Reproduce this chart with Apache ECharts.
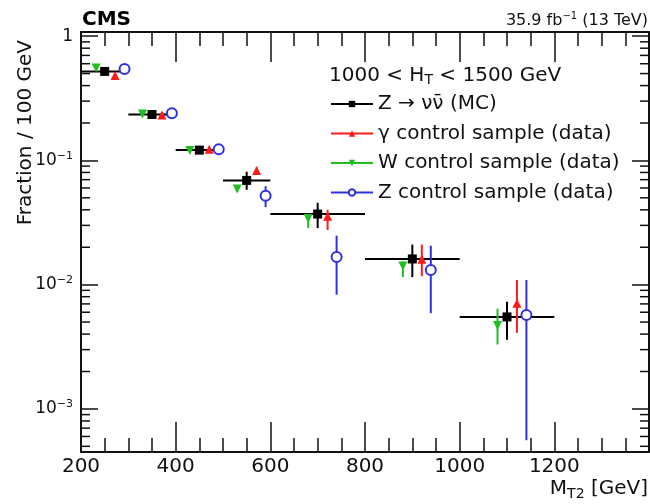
<!DOCTYPE html>
<html><head><meta charset="utf-8">
<script src="https://cdn.jsdelivr.net/npm/echarts@6/dist/echarts.min.js"></script>
<style>html,body{margin:0;padding:0;background:#fff}#c{width:650px;height:504px}</style>
</head><body><div id="c"></div>
<script>
// ---- data ----
const binLow  = [200, 300, 400, 500, 600, 800, 1000];
const binHigh = [300, 400, 500, 600, 800, 1000, 1200];

const mcX  = [250, 350, 450, 550, 700, 900, 1100];
const mcY  = [0.52, 0.234, 0.121, 0.069, 0.037, 0.0161, 0.0055];
const mcLo = [0.51, 0.230, 0.118, 0.058, 0.0285, 0.0115, 0.0036];
const mcHi = [0.53, 0.238, 0.124, 0.081, 0.0456, 0.021, 0.0073];

const phX  = [272, 371, 471, 571, 721, 920, 1121];
const phY  = [0.483, 0.232, 0.123, 0.083, 0.0355, 0.016, 0.0071];
const phLo = [0.47, 0.226, 0.119, 0.079, 0.0276, 0.0117, 0.0041];
const phHi = [0.495, 0.245, 0.128, 0.088, 0.040, 0.021, 0.0109];

const wX  = [232, 330, 430, 530, 680, 880, 1080];
const wY  = [0.553, 0.236, 0.120, 0.059, 0.034, 0.0141, 0.0047];
const wLo = [0.54, 0.231, 0.117, 0.056, 0.0286, 0.0115, 0.0033];
const wHi = [0.565, 0.241, 0.123, 0.062, 0.036, 0.0154, 0.0064];

const zX  = [292, 392, 491, 590, 740, 939, 1141];
const zY  = [0.544, 0.240, 0.123, 0.052, 0.0167, 0.0131, 0.0057];
const zLo = [0.525, 0.232, 0.115, 0.042, 0.0083, 0.0059, 0.00056];
const zHi = [0.565, 0.250, 0.132, 0.062, 0.0248, 0.0206, 0.0109];

const seriesNames = ['Z \u2192 \u03BD\u03BD\u0304 (MC)', '\u03B3 control sample (data)', 'W control sample (data)', 'Z control sample (data)'];
const yMinorTicks = [5e-4,6e-4,7e-4,8e-4,9e-4, 2e-3,3e-3,4e-3,5e-3,6e-3,7e-3,8e-3,9e-3,
                     2e-2,3e-2,4e-2,5e-2,6e-2,7e-2,8e-2,9e-2, 0.2,0.3,0.4,0.5,0.6,0.7,0.8,0.9];

const FONT = 'DejaVu Sans';
const cBlack = '#000000', cRed = '#ff1a1a', cGreen = '#1fbf1f', cBlue = '#3030e0';

function errSeries(color, xs, ys, lo, hi, withX) {
  const data = xs.map((x, i) => withX ? [x, ys[i], lo[i], hi[i], binLow[i], binHigh[i]] : [x, ys[i], lo[i], hi[i], x, x]);
  return {
    type: 'custom', name: 'err', data: data, z: 2, silent: true, animation: false,
    encode: { x: 0, y: 1 },
    renderItem: function (params, api) {
      const x = api.value(0), y = api.value(1);
      const pLo = api.coord([x, api.value(2)]), pHi = api.coord([x, api.value(3)]);
      const ch = [{ type: 'line', shape: { x1: pLo[0], y1: pLo[1], x2: pHi[0], y2: pHi[1] }, style: { stroke: color, lineWidth: 2 } }];
      if (withX) {
        const a = api.coord([api.value(4), y]), b = api.coord([api.value(5), y]);
        ch.push({ type: 'line', shape: { x1: a[0], y1: a[1], x2: b[0], y2: b[1] }, style: { stroke: color, lineWidth: 2 } });
      }
      return { type: 'group', children: ch };
    }
  };
}
function markSeries(name, color, xs, ys, symbol, size, rot) {
  return {
    type: 'line', name: name, data: xs.map((x, i) => [x, ys[i]]),
    symbol: symbol, symbolSize: size, symbolRotate: rot || 0, showAllSymbol: true,
    itemStyle: { color: color, borderWidth: symbol === 'emptyCircle' ? 1.6 : 0 },
    lineStyle: { opacity: 0, color: color }, z: 5, silent: true, animation: false
  };
}

const chart = echarts.init(document.getElementById('c'), null, { renderer: 'canvas' });
const yLabelRich = { b: { fontSize: 17, lineHeight: 20, fontFamily: FONT, color: '#111' },
                     s: { fontSize: 11, lineHeight: 10, verticalAlign: 'top', fontFamily: FONT, color: '#111' } };
const option = {
  animation: false,
  backgroundColor: '#ffffff',
  grid: { left: 81, right: 1, top: 32, bottom: 52, containLabel: false },
  xAxis: [{
    type: 'value', min: 200, max: 1400, interval: 200, position: 'bottom',
    axisLine: { show: true, lineStyle: { color: '#111', width: 2 } },
    axisTick: { show: true, inside: true, length: 30, lineStyle: { color: '#111', width: 1.5 } },
    minorTick: { show: true, splitNumber: 4, length: 14, lineStyle: { color: '#111', width: 1.5 } },
    splitLine: { show: false },
    axisLabel: { fontSize: 20, fontFamily: FONT, color: '#111', margin: 5, showMaxLabel: false,
                 formatter: function (v) { return String(v); } }
  }, {
    type: 'value', min: 200, max: 1400, interval: 200, position: 'top',
    axisLine: { show: true, lineStyle: { color: '#111', width: 2 } },
    axisTick: { show: true, inside: true, length: 30, lineStyle: { color: '#111', width: 1.5 } },
    minorTick: { show: true, splitNumber: 4, length: 14, lineStyle: { color: '#111', width: 1.5 } },
    splitLine: { show: false }, axisLabel: { show: false }
  }],
  yAxis: [{
    type: 'log', logBase: 10, min: 4.5e-4, max: 1.08, position: 'left',
    axisLine: { show: true, lineStyle: { color: '#111', width: 2 } },
    axisTick: { show: true, inside: true, length: 17, lineStyle: { color: '#111', width: 1.5 } },
    splitLine: { show: false },
    axisLabel: {
      margin: 8, showMinLabel: false, showMaxLabel: false, rich: yLabelRich,
      formatter: function (v) {
        const l = Math.log10(v), e = Math.round(l);
        if (Math.abs(l - e) > 1e-6) return '';
        return e === 0 ? '{b|1}' : '{b|10}{s|\u2212' + (-e) + '}';
      }
    }
  }, {
    type: 'log', logBase: 10, min: 4.5e-4, max: 1.08, position: 'right',
    axisLine: { show: true, lineStyle: { color: '#111', width: 2 } },
    axisTick: { show: true, inside: true, length: 17, lineStyle: { color: '#111', width: 1.5 } },
    splitLine: { show: false }, axisLabel: { show: false }
  }],
  legend: {
    orient: 'vertical', left: 330, top: 94, padding: 0, itemWidth: 42, itemHeight: 8, itemGap: 9.5,
    selectedMode: false, data: seriesNames,
    textStyle: { fontSize: 20, fontFamily: FONT, color: '#111', lineHeight: 20 },
    lineStyle: { opacity: 1, width: 2 }
  },
  graphic: [
    { type: 'text', x: 82, y: 19.5, style: { text: 'CMS', fontSize: 20, fontWeight: 'bold', fontFamily: FONT, fill: '#000', align: 'left', verticalAlign: 'middle' } },
    { type: 'text', x: 648, y: 21, style: { text: '35.9 fb{s|\u22121} (13 TeV)', fontSize: 16, fontFamily: FONT, fill: '#111', align: 'right', verticalAlign: 'middle',
        rich: { s: { fontSize: 10, lineHeight: 10, verticalAlign: 'top', fontFamily: FONT, fill: '#111' } }, lineHeight: 20 } },
    { type: 'text', x: 329, y: 75.5, style: { text: '1000 < H{t|T} < 1500 GeV', fontSize: 20, fontFamily: FONT, fill: '#111', align: 'left', verticalAlign: 'middle', lineHeight: 24,
        rich: { t: { fontSize: 14, lineHeight: 10, verticalAlign: 'bottom', fontFamily: FONT, fill: '#111' } } } },
    { type: 'text', x: 648, y: 489, style: { text: 'M{t|T2} [GeV]', fontSize: 20, fontFamily: FONT, fill: '#111', align: 'right', verticalAlign: 'middle', lineHeight: 24,
        rich: { t: { fontSize: 14, lineHeight: 10, verticalAlign: 'bottom', fontFamily: FONT, fill: '#111' } } } },
    { type: 'text', x: 26, y: 40, rotation: Math.PI / 2, style: { text: 'Fraction / 100 GeV', fontSize: 20, fontFamily: FONT, fill: '#111', align: 'right', verticalAlign: 'middle' } }
  ],
  series: [
    {
      type: 'custom', name: 'minorY', silent: true, animation: false, z: 1,
      data: yMinorTicks.map(v => [200, v]), encode: { x: 0, y: 1 },
      renderItem: function (params, api) {
        const cs = params.coordSys;
        const p = api.coord([api.value(0), api.value(1)]);
        const st = { stroke: '#111', lineWidth: 1.5 };
        return { type: 'group', children: [
          { type: 'line', shape: { x1: cs.x, y1: p[1], x2: cs.x + 9, y2: p[1] }, style: st },
          { type: 'line', shape: { x1: cs.x + cs.width - 9, y1: p[1], x2: cs.x + cs.width, y2: p[1] }, style: st }
        ] };
      }
    },
    errSeries(cBlack, mcX, mcY, mcLo, mcHi, true),
    errSeries(cRed, phX, phY, phLo, phHi, false),
    errSeries(cGreen, wX, wY, wLo, wHi, false),
    errSeries(cBlue, zX, zY, zLo, zHi, false),
    markSeries(seriesNames[0], cBlack, mcX, mcY, 'rect', 9),
    markSeries(seriesNames[1], cRed, phX, phY, 'triangle', 9),
    markSeries(seriesNames[2], cGreen, wX, wY, 'triangle', 9, 180),
    markSeries(seriesNames[3], cBlue, zX, zY, 'emptyCircle', 10)
  ]
};
chart.setOption(option);
</script>
</body></html>
